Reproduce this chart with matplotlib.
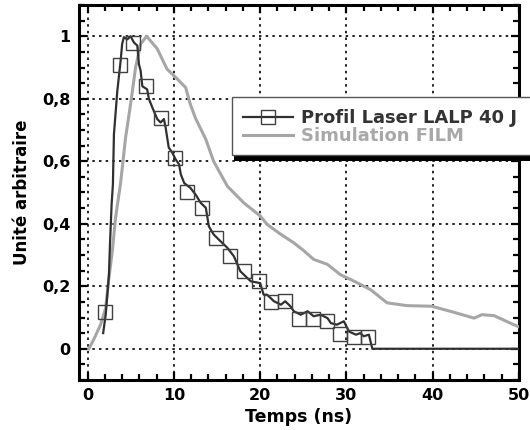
import numpy as np
import matplotlib
matplotlib.use("Agg")
import matplotlib.pyplot as plt
from matplotlib.patches import Rectangle
from matplotlib.lines import Line2D

plt.rcParams['font.family'] = ['DejaVu Sans']
plt.rcParams['font.weight'] = 'bold'

# laser profile (black curve)
laser_t = [1.8, 2.1, 2.47, 2.59, 2.78, 2.93, 3.05, 3.44, 3.82, 4.0, 4.2, 4.6, 4.98,
           5.37, 5.76, 5.95, 6.14, 6.34, 6.9, 7.1, 7.5, 8.07, 8.46, 8.84, 9.04, 9.4,
           9.8, 10.2, 10.6, 10.8, 11.2, 11.9, 12.5, 13.1, 13.7, 14.05, 14.6, 15.4,
           16.2, 16.95, 17.7, 18.9, 20.0, 20.4, 20.8, 21.6, 22.4, 22.9, 23.5, 23.9,
           24.7, 25.5, 26.2, 27.0, 27.8, 28.2, 28.9, 29.7, 30.3, 31.1, 31.6, 32.0,
           32.6, 33.0, 50.0]
laser_y = [0.05, 0.11, 0.237, 0.334, 0.462, 0.526, 0.687, 0.825, 0.92, 0.975, 0.997,
           0.99, 1.0, 0.98, 0.97, 0.91, 0.89, 0.84, 0.83, 0.8, 0.772, 0.735, 0.724,
           0.735, 0.708, 0.644, 0.628, 0.606, 0.59, 0.558, 0.53, 0.515, 0.494, 0.467,
           0.451, 0.392, 0.366, 0.344, 0.323, 0.296, 0.248, 0.216, 0.21, 0.173, 0.173,
           0.152, 0.141, 0.152, 0.136, 0.12, 0.109, 0.12, 0.104, 0.109, 0.098, 0.082,
           0.077, 0.088, 0.055, 0.045, 0.05, 0.04, 0.045, 0.0, 0.0]

# square markers on the laser profile
mark_t = [2.05, 3.75, 5.25, 6.8, 8.54, 10.08, 11.5, 13.2, 14.9, 16.5, 18.1, 19.85,
          21.3, 22.9, 24.5, 26.1, 27.8, 29.2, 30.9, 32.5]
mark_y = [0.119, 0.909, 0.978, 0.84, 0.738, 0.61, 0.503, 0.451, 0.353, 0.296, 0.248,
          0.218, 0.15, 0.153, 0.095, 0.095, 0.09, 0.048, 0.038, 0.038]

# FILM simulation (gray curve)
sim_t = [0.15, 0.8, 1.5, 2.09, 2.47, 2.86, 3.24, 3.82, 4.4, 4.98, 5.56, 6.14, 6.84,
         8.07, 9.2, 10.4, 11.36, 11.9, 12.5, 13.7, 14.6, 16.2, 18.1, 20.0, 20.8, 22.4,
         23.9, 25.0, 26.2, 27.8, 29.3, 30.9, 32.8, 34.7, 37.0, 39.9, 42.8, 44.8, 45.7,
         47.1, 49.4, 50.0]
sim_y = [0.0, 0.035, 0.077, 0.13, 0.227, 0.312, 0.42, 0.53, 0.676, 0.783, 0.9, 0.975,
         1.0, 0.96, 0.895, 0.863, 0.836, 0.783, 0.738, 0.67, 0.6, 0.52, 0.467, 0.425,
         0.398, 0.366, 0.339, 0.315, 0.286, 0.27, 0.237, 0.216, 0.189, 0.147, 0.138,
         0.136, 0.114, 0.098, 0.109, 0.106, 0.077, 0.07]

xticks = [0, 10, 20, 30, 40, 50]
yticks = [0, 0.2, 0.4, 0.6, 0.8, 1.0]
ylabels = ['0', '0,2', '0,4', '0,6', '0,8', '1']

fig = plt.figure(figsize=(5.3, 4.3), dpi=100)
ax = fig.add_axes([79/530, 50/430, 440/530, 375/430])

ax.plot(sim_t, sim_y, color='#a6a6a6', lw=2.2, zorder=3)
ax.plot(laser_t, laser_y, color='#303030', lw=1.6, zorder=4)
ax.plot(mark_t, mark_y, ls='none', marker='s', ms=10.5, mfc='none',
        mec='#404040', mew=1.0, zorder=5)

ax.set_xlim(-1, 50)
ax.set_ylim(-0.1, 1.1)
ax.set_xticks(xticks)
ax.set_yticks(yticks)
ax.set_yticklabels(ylabels)
ax.set_xticks(np.arange(0, 51, 2), minor=True)
ax.set_yticks(np.arange(-0.1, 1.11, 0.05), minor=True)
ax.tick_params(which='both', direction='in', top=True, right=True,
               labelsize=11.5, width=1.6, pad=6)
ax.tick_params(which='major', length=6)
ax.tick_params(which='minor', length=4)
for s in ax.spines.values():
    s.set_linewidth(2.2)
ax.grid(True, which='major', color='black', lw=1.2, ls=(0, (1.5, 2.5)))

ax.set_xlabel('Temps (ns)', fontsize=12.5, fontweight='bold', labelpad=3)
ax.set_ylabel('Unité arbitraire', fontsize=12, fontweight='bold', labelpad=8)

# legend box with a hard shadow, running past the right edge
fig.patches.append(Rectangle((234/530, 1 - 161/430), 320/530, 60/430,
                             transform=fig.transFigure, fc='black', ec='none', zorder=10))
fig.patches.append(Rectangle((232/530, 1 - 155/430), 320/530, 58/430,
                             transform=fig.transFigure, fc='white', ec='#555555',
                             lw=1.0, zorder=11))
h1 = Line2D([], [], color='#303030', lw=1.6, marker='s', ms=10.5, mfc='none',
            mec='#404040', mew=1.0)
h2 = Line2D([], [], color='#a6a6a6', lw=2.2)
leg = fig.legend([h1, h2], ['Profil Laser LALP 40 J', 'Simulation FILM'],
                 loc='upper left', bbox_to_anchor=(243/530, 1 - 109/430),
                 frameon=False, fontsize=13, handlelength=2.75, handletextpad=0.45,
                 borderpad=0, borderaxespad=0, labelspacing=0.02)
leg.set_zorder(12)
leg.get_texts()[0].set_color('#333333')
leg.get_texts()[1].set_color('#a8a8a8')
for t in leg.get_texts():
    t.set_fontweight('bold')

fig.savefig('out.png', dpi=100)
